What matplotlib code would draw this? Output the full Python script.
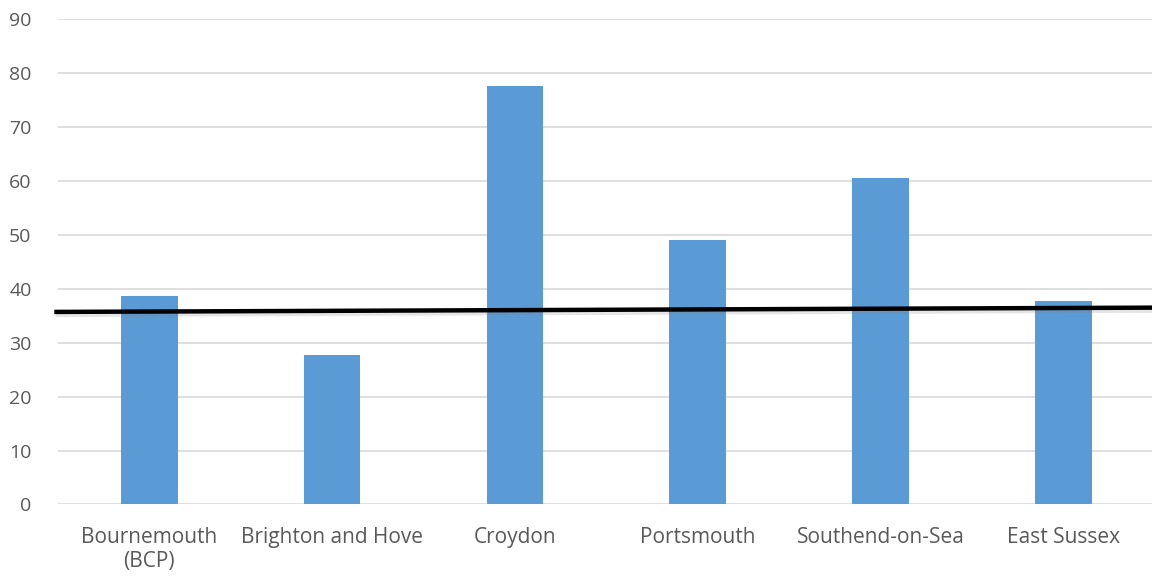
import matplotlib
matplotlib.use("Agg")
import matplotlib.pyplot as plt
import matplotlib.patheffects as pe

# Data
categories = ["Bournemouth\n(BCP)", "Brighton and Hove", "Croydon",
              "Portsmouth", "Southend-on-Sea", "East Sussex"]
values = [38.6, 27.8, 77.5, 49.1, 60.5, 37.8]
y_ticks = [0, 10, 20, 30, 40, 50, 60, 70, 80, 90]

# Reference line (start and end values across the chart)
ref_line_x = [-0.52, 5.55]
ref_line_y = [35.7, 36.5]

plt.rcParams["font.family"] = ["Open Sans", "DejaVu Sans"]

fig = plt.figure(figsize=(11.52, 5.77), dpi=100)
ax = fig.add_axes([0.0503, 0.1257, 0.952, 0.8413])

x = list(range(len(categories)))
ax.bar(x, values, width=0.31, color="#5b9bd5", zorder=2)

ax.plot(ref_line_x, ref_line_y, color="black", linewidth=3.2, zorder=3,
        clip_on=False, solid_capstyle="butt",
        path_effects=[pe.SimpleLineShadow(offset=(1, -1.5), shadow_color="gray",
                                          alpha=0.2, linewidth=4.5),
                      pe.Normal()])

ax.set_xlim(-0.5, 5.5)
ax.set_ylim(0, 90)
ax.set_yticks(y_ticks)
ax.set_xticks(x)
ax.set_xticklabels(categories, linespacing=1.2)
ax.yaxis.grid(True, color="#d9d9d9", linewidth=1.2, zorder=0)
ax.set_axisbelow(True)
for s in ax.spines.values():
    s.set_visible(False)
ax.tick_params(axis="both", length=0, labelcolor="#595959")
ax.tick_params(axis="y", pad=19, labelsize=14)
ax.tick_params(axis="x", pad=16, labelsize=15)

fig.savefig("out.png", dpi=100)
